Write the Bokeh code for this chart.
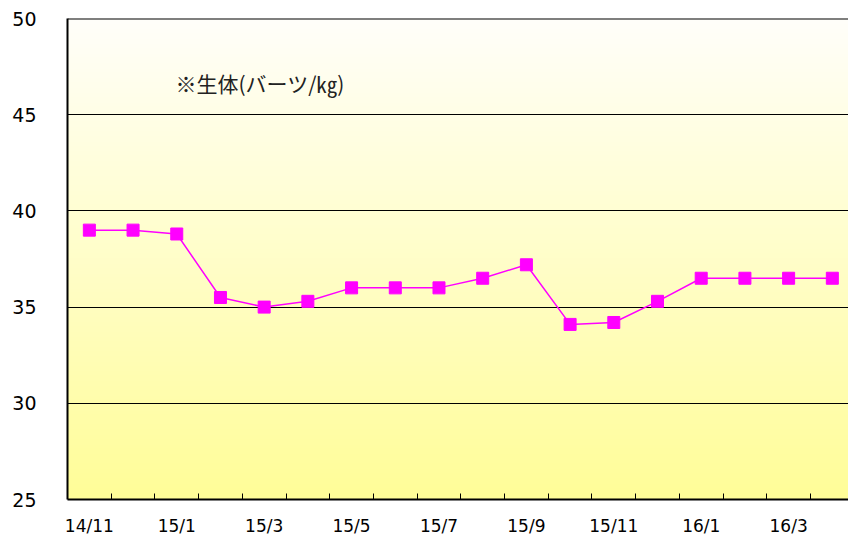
import numpy as np
from bokeh.plotting import figure
from bokeh.models import Range1d, FixedTicker, Span, Label
from bokeh.embed import file_html
from bokeh.resources import INLINE

months = ["14/11", "14/12", "15/1", "15/2", "15/3", "15/4", "15/5", "15/6", "15/7",
          "15/8", "15/9", "15/10", "15/11", "15/12", "16/1", "16/2", "16/3", "16/4"]
prices = [39.0, 39.0, 38.8, 35.5, 35.0, 35.3, 36.0, 36.0, 36.0,
          36.5, 37.2, 34.1, 34.2, 35.3, 36.5, 36.5, 36.5, 36.5]
y_ticks = [25, 30, 35, 40, 45, 50]
note = "※生体(バーツ/㎏)"

xs = list(range(len(months)))
n = len(months)

p = figure(width=848, height=538, output_backend="svg", toolbar_location=None,
           x_range=Range1d(-0.5, n - 1 + 0.37), y_range=Range1d(25, 50),
           min_border_left=67, min_border_right=0, min_border_top=18, min_border_bottom=38)
p.outline_line_color = None
p.background_fill_color = "white"
p.border_fill_color = "white"

# gradient background
N = 256
top = np.array([255, 255, 250], dtype=float)
bot = np.array([255, 253, 152], dtype=float)
img = np.zeros((N, 1), dtype=np.uint32)
view = img.view(dtype=np.uint8).reshape((N, 1, 4))
for i in range(N):
    t = i / (N - 1)
    c = bot + (top - bot) * t
    view[i, 0, 0] = int(c[0]); view[i, 0, 1] = int(c[1]); view[i, 0, 2] = int(c[2]); view[i, 0, 3] = 255
p.image_rgba(image=[img], x=-0.5, y=25, dw=n + 1, dh=25, level="image")

# grid
p.xgrid.visible = False
p.ygrid.ticker = FixedTicker(ticks=y_ticks)
p.ygrid.grid_line_color = "black"
p.ygrid.grid_line_width = 1
p.add_layout(Span(location=50, dimension="width", line_color="black", line_width=2))

p.line(xs, prices, line_color="#FF00FF", line_width=1.5)
p.scatter(xs, prices, marker="square", size=12, fill_color="#FF00FF", line_color="#FF00FF")

# axes
p.yaxis.ticker = FixedTicker(ticks=y_ticks)
p.yaxis.axis_line_color = "black"
p.yaxis.axis_line_width = 2
p.yaxis.major_tick_in = 0
p.yaxis.major_tick_out = 0
p.yaxis.minor_tick_line_color = None
p.yaxis.major_label_standoff = 31
p.yaxis.major_label_text_font = "DejaVu Sans"
p.yaxis.major_label_text_font_size = "19px"
p.yaxis.major_label_text_color = "black"

major = xs[::2]
minor = [i + 0.5 for i in xs[:-1]]
p.xaxis.ticker = FixedTicker(ticks=major, minor_ticks=minor)
p.xaxis.major_label_overrides = {i: months[i] for i in major}
p.xaxis.axis_line_color = "black"
p.xaxis.axis_line_width = 2
p.xaxis.major_tick_in = 0
p.xaxis.major_tick_out = 0
p.xaxis.minor_tick_in = 6
p.xaxis.minor_tick_out = 0
p.xaxis.minor_tick_line_color = "black"
p.xaxis.major_label_standoff = 16
p.xaxis.major_label_text_font = "DejaVu Sans"
p.xaxis.major_label_text_font_size = "17px"
p.xaxis.major_label_text_color = "black"

p.add_layout(Label(x=1.97, y=46.63, text=note, text_align="left", text_baseline="middle",
                   text_font="Noto Sans CJK JP", text_font_size="21px", text_color="#222222"))

open("out.html", "w").write(file_html(p, INLINE))
